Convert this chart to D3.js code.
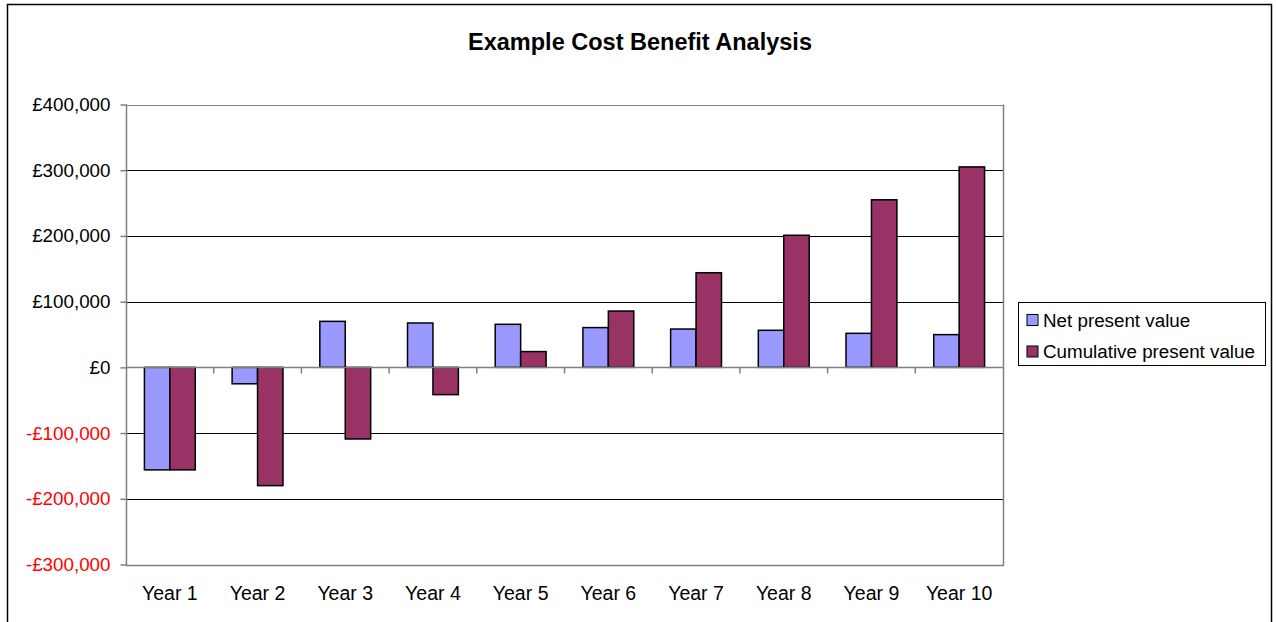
<!DOCTYPE html>
<html><head><meta charset="utf-8">
<script src="https://cdn.jsdelivr.net/npm/d3@7"></script>
<style>body{margin:0;background:#fff;}svg{display:block;font-family:Arial,"Liberation Sans",sans-serif;}</style>
</head><body><svg id="c" width="1277" height="622"></svg>
<script>
const categories = ["Year 1","Year 2","Year 3","Year 4","Year 5","Year 6","Year 7","Year 8","Year 9","Year 10"];
const netPresentValue = [-156000,-25000,70000,67500,65500,60500,58300,56400,51800,49800];
const cumulativePresentValue = [-156000,-180000,-109000,-41500,24000,85700,144000,201000,255000,305000];
const seriesNames = ["Net present value","Cumulative present value"];
const seriesColors = ["#9999FF","#993366"];
const yTicks = [-300000,-200000,-100000,0,100000,200000,300000,400000];
const title = "Example Cost Benefit Analysis";

const svg = d3.select("#c");
const L = 126, R = 1003, T = 104.5, B = 564.5;

// chart border
svg.append("rect").attr("x",7.5).attr("y",4.5).attr("width",1264).attr("height",640)
  .attr("fill","none").attr("stroke","#000").attr("stroke-width",1.5);

svg.append("text").attr("x",640).attr("y",50).attr("text-anchor","middle")
  .attr("font-size",23.5).attr("font-weight","bold").text(title);

const y = d3.scaleLinear().domain([-300000,400000]).range([B,T]);
const x0 = d3.scaleBand().domain(categories).range([L,R]).paddingInner(0.42).paddingOuter(0.21);
const x1 = d3.scaleBand().domain([0,1]).range([0,x0.bandwidth()]);

// gridlines
svg.append("g").selectAll("line").data(yTicks.filter(v=>v!==0 && v!==-300000)).join("line")
  .attr("x1",L).attr("x2",R).attr("y1",d=>Math.round(y(d))+0.5).attr("y2",d=>Math.round(y(d))+0.5)
  .attr("stroke",d=>d===400000?"#808080":"#000").attr("stroke-width",1);

// plot border left/right/bottom
svg.append("path").attr("d",`M${L+0.5},${T}V${Math.round(B)+0.5}H${R+0.5}V${T}`)
  .attr("fill","none").attr("stroke","#808080").attr("stroke-width",1.5);

// y axis
const yAxis = d3.axisLeft(y).tickValues(yTicks).tickSize(6).tickPadding(10)
  .tickFormat(d => (d<0?"-":"") + "£" + d3.format(",")(Math.abs(d)));
const gy = svg.append("g").attr("transform",`translate(${L+0.5},0)`).call(yAxis);
gy.select(".domain").remove();
gy.selectAll(".tick line").attr("stroke","#808080").attr("stroke-width",1.5);
gy.selectAll(".tick text").attr("font-size",18.8).attr("font-family","Arial,'Liberation Sans',sans-serif")
  .attr("fill",d=>d<0?"#FF0000":"#000");

// bars
const data = categories.map((c,i)=>({c, v:[netPresentValue[i],cumulativePresentValue[i]]}));
const g = svg.append("g");
data.forEach(d=>{
  d.v.forEach((v,k)=>{
    g.append("rect")
      .attr("x",x0(d.c)+x1(k)).attr("width",x1.bandwidth())
      .attr("y",y(Math.max(0,v))).attr("height",Math.abs(y(v)-y(0)))
      .attr("fill",seriesColors[k]).attr("stroke","#000").attr("stroke-width",1.5);
  });
});

// zero axis with category ticks
const y0 = Math.round(y(0))+0.5;
svg.append("line").attr("x1",L).attr("x2",R).attr("y1",y0).attr("y2",y0).attr("stroke","#808080").attr("stroke-width",1.5);
const step = (R-L)/categories.length;
svg.append("g").selectAll("line").data(d3.range(1,categories.length)).join("line")
  .attr("x1",i=>L+i*step).attr("x2",i=>L+i*step).attr("y1",y0).attr("y2",y0+6)
  .attr("stroke","#808080").attr("stroke-width",1.5);

// category labels
svg.append("g").selectAll("text").data(categories).join("text")
  .attr("x",d=>x0(d)+x0.bandwidth()/2).attr("y",600).attr("text-anchor","middle")
  .attr("font-size",19.5).text(d=>d);

// legend
const lg = svg.append("g");
lg.append("rect").attr("x",1018.5).attr("y",302.5).attr("width",247).attr("height",63)
  .attr("fill","#fff").attr("stroke","#000").attr("stroke-width",1);
seriesNames.forEach((n,k)=>{
  const cy = 320 + k*31.5;
  lg.append("rect").attr("x",1027).attr("y",cy-5.5).attr("width",11).attr("height",11)
    .attr("fill",seriesColors[k]).attr("stroke","#000").attr("stroke-width",1);
  lg.append("text").attr("x",1043).attr("y",cy+6.5).attr("font-size",18.8).text(n);
});
</script></body></html>
